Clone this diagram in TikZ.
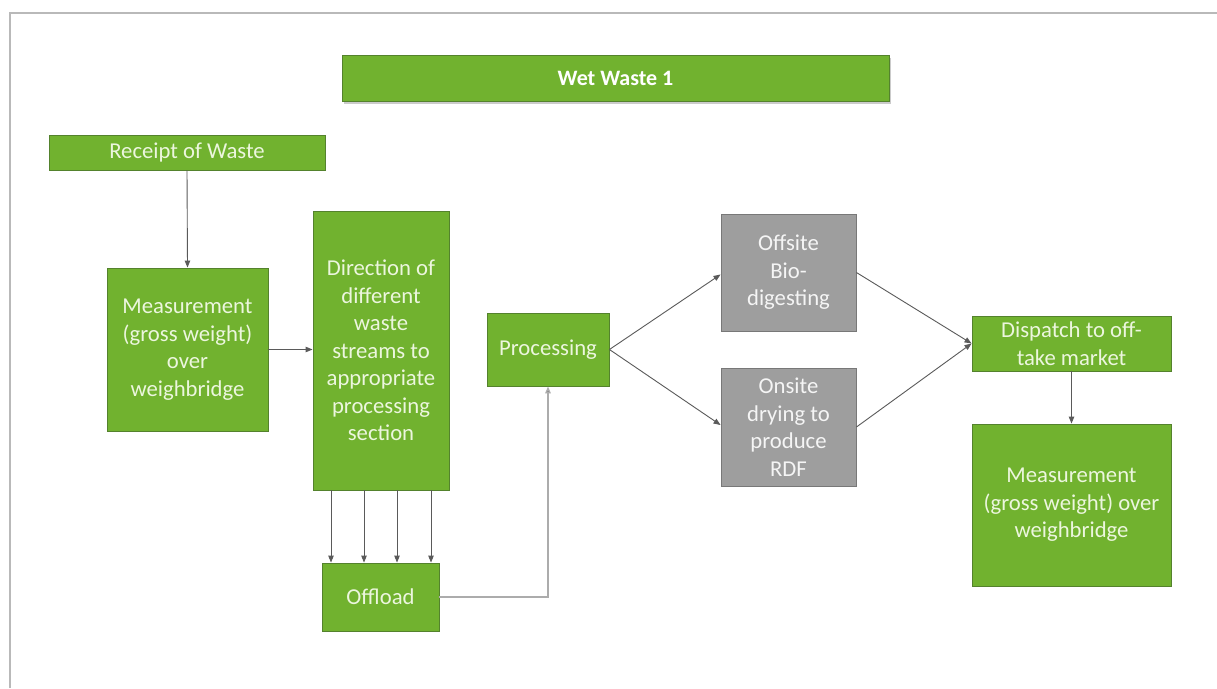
\documentclass[tikz,border=0pt]{standalone}
\usepackage{fontspec}
\setmainfont{Carlito}
\usetikzlibrary{arrows.meta,shadows,calc}
\definecolor{gfill}{RGB}{113,178,47}
\definecolor{gedge}{RGB}{84,130,45}
\definecolor{grfill}{RGB}{158,158,158}
\definecolor{gredge}{RGB}{120,120,120}
\definecolor{tcol}{RGB}{236,246,222}
\definecolor{lcol}{RGB}{90,90,90}
\begin{document}
\begin{tikzpicture}[x=1pt,y=-1pt,
  font=\fontsize{22.7}{27.5}\selectfont,
  gbox/.style={draw=gedge, line width=0.9pt, fill=gfill, text=tcol, align=center, inner sep=0pt},
  graybox/.style={draw=gredge, line width=0.9pt, fill=grfill, text=white!92!gray, align=center, inner sep=0pt},
  arr/.style={draw=lcol, line width=0.9pt, -{Triangle[length=7pt,width=5.5pt]}},
  arrl/.style={draw=gray!65, line width=1.5pt, -{Triangle[length=7pt,width=5.5pt,fill=lcol]}}]
\useasboundingbox (0,0) rectangle (1217,688);
\fill[white] (0,0) rectangle (1217,688);
\draw[gray!55, line width=1.2pt] (10,688) -- (10,13) -- (1217,13);

\node[gbox, minimum width=547pt, minimum height=46pt, font=\fontsize{22}{27.5}\selectfont\bfseries, text=white,
  drop shadow={shadow xshift=2pt, shadow yshift=-3pt, fill=black!40}] (title) at (615.5,78) {Wet Waste 1};
\node[gbox, minimum width=276pt, minimum height=35pt] (rec) at (187,152.5) {Receipt of Waste};
\node[gbox, minimum width=161pt, minimum height=163pt] (m1) at (187.5,349.5) {Measurement\\(gross weight)\\over\\weighbridge};
\node[gbox, minimum width=136pt, minimum height=279pt] (dir) at (381,350.5) {Direction of\\different\\waste\\streams to\\appropriate\\processing\\section};
\node[gbox, minimum width=117pt, minimum height=68pt] (off) at (380.5,597) {Offload};
\node[gbox, minimum width=122pt, minimum height=73pt] (proc) at (548,349.5) {Processing};
\node[graybox, minimum width=135pt, minimum height=117pt] (bio) at (788.5,272.5) {Offsite\\Bio-\\digesting};
\node[graybox, minimum width=135pt, minimum height=118pt] (dry) at (788.5,427) {Onsite\\drying to\\produce\\RDF};
\node[gbox, minimum width=199pt, minimum height=55pt] (disp) at (1071.5,343.5) {Dispatch to off-\\take market};
\node[gbox, minimum width=199pt, minimum height=162pt] (m2) at (1071.5,505) {Measurement\\(gross weight) over\\weighbridge};

\draw[arr] (rec.south) -- (m1.north);
\draw[arr] (m1.east) -- (m1.east -| dir.west);
\foreach \dx in {-50,-17,16,50}
  \draw[arr] ([xshift=\dx pt]dir.south) -- ([xshift=\dx pt]dir.south |- off.north);
\draw[arrl] (off.east) -| (proc.south);
\draw[arr] (proc.east) -- ([yshift=-2pt]bio.west);
\draw[arr] (proc.east) -- ([yshift=2pt]dry.west);
\draw[arr] (bio.east) -- (disp.west);
\draw[arr] (dry.east) -- (disp.west);
\draw[arr] (disp.south) -- (m2.north);
\end{tikzpicture}
\end{document}
